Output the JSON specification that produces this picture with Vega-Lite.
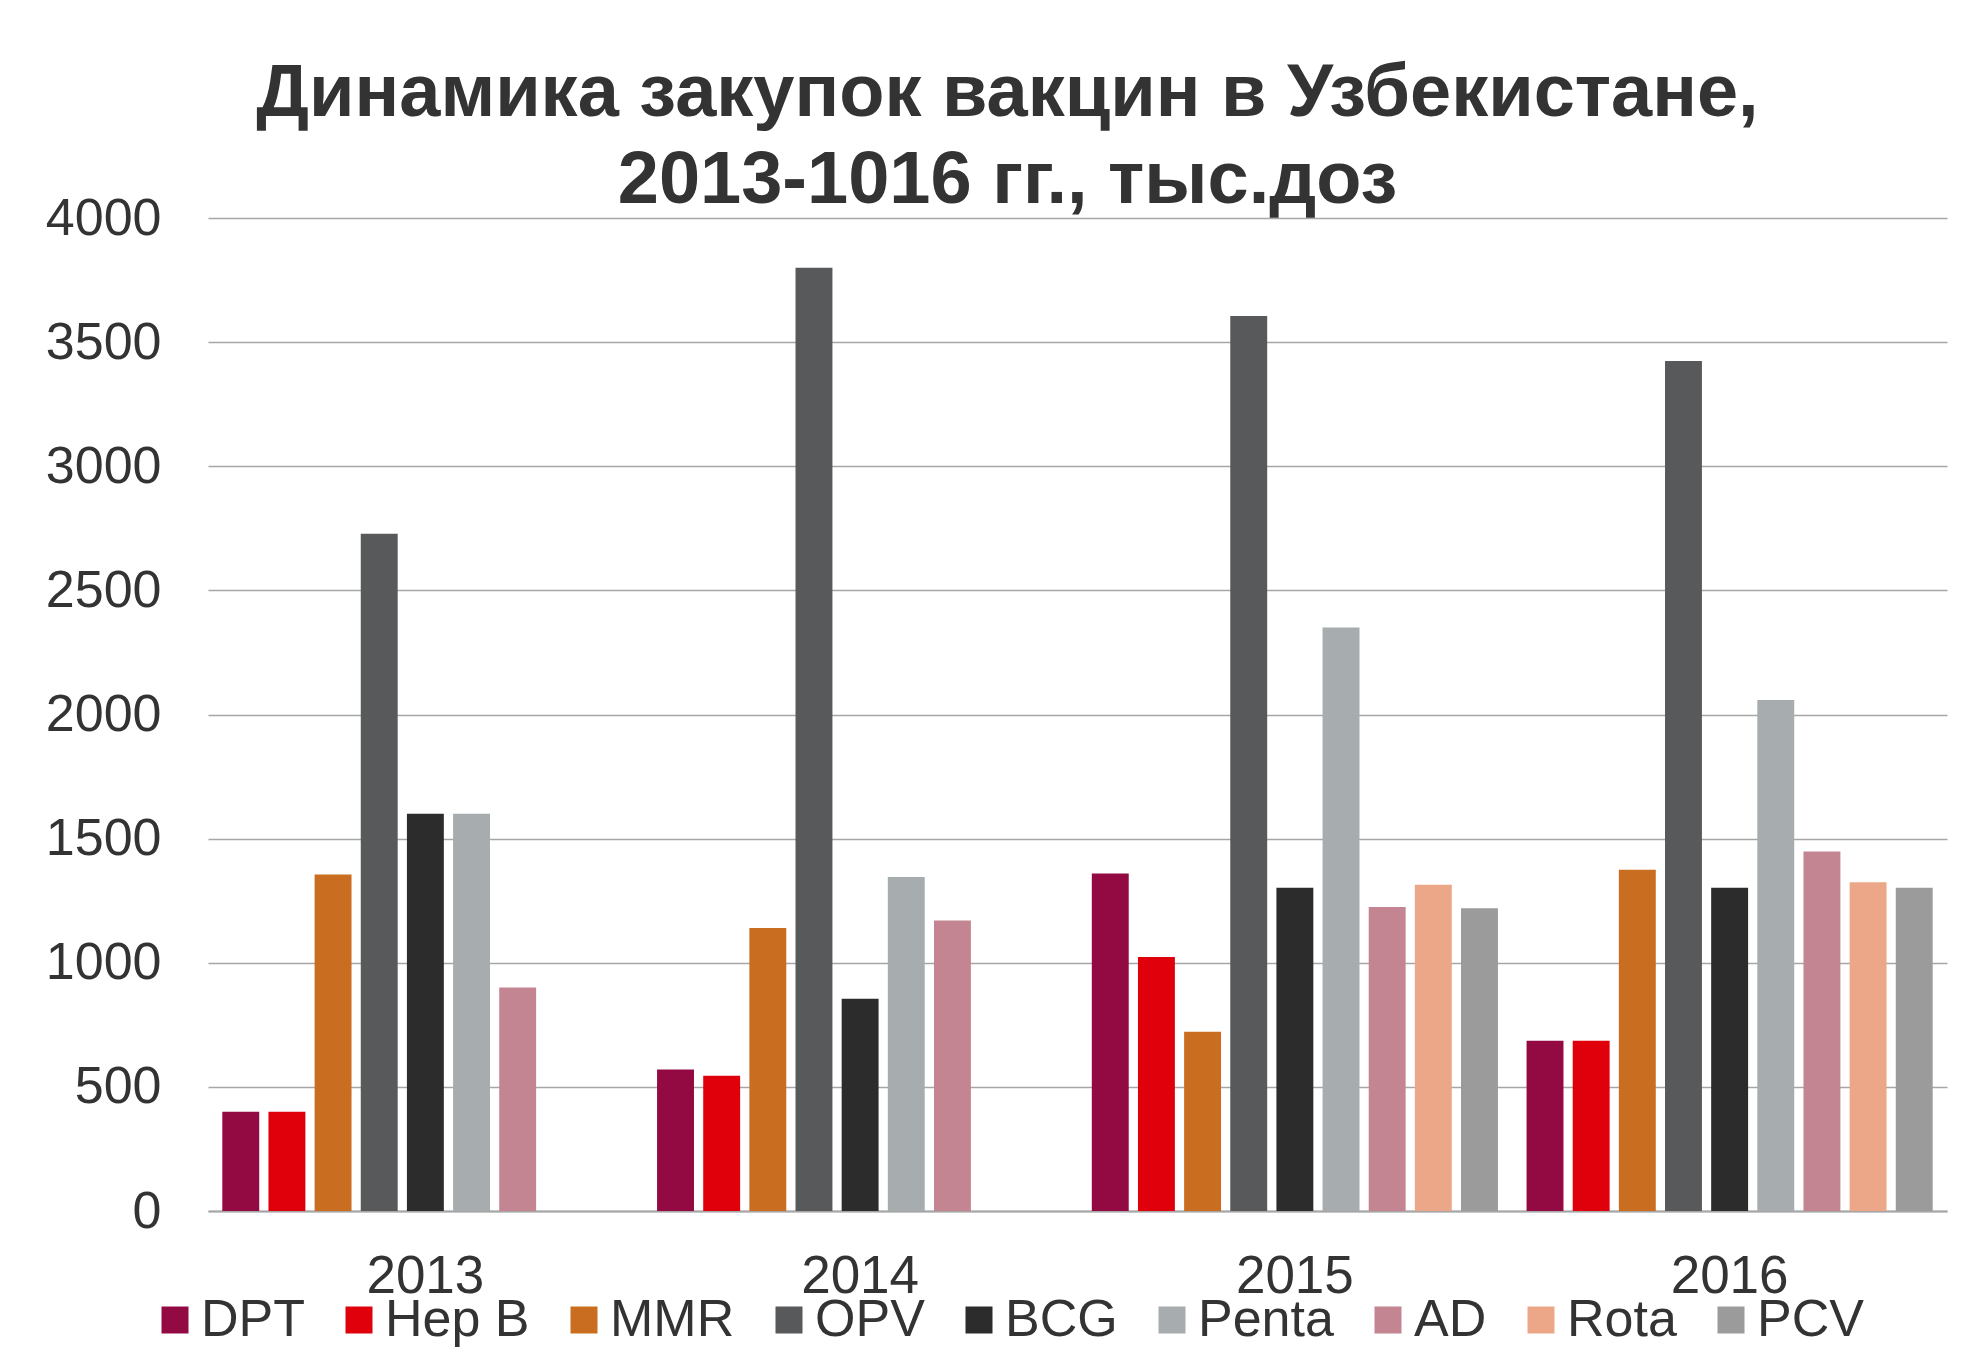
{
  "$schema": "https://vega.github.io/schema/vega-lite/v6.json",
  "width": 1739,
  "height": 993,
  "autosize": {"type": "none"},
  "padding": {"left": 208, "top": 218, "right": 29, "bottom": 136},
  "background": "white",
  "title": {
    "text": ["Динамика закупок вакцин в Узбекистане,", "2013-1016 гг., тыс.доз"],
    "anchor": "middle",
    "frame": "group",
    "dx": -70,
    "offset": -27,
    "font": "Liberation Sans",
    "fontSize": 74,
    "fontWeight": "bold",
    "lineHeight": 87,
    "color": "#333333"
  },
  "data": {
    "values": [
      {"year": "2013", "vaccine": "DPT", "doses": 400},
      {"year": "2013", "vaccine": "Hep B", "doses": 400},
      {"year": "2013", "vaccine": "MMR", "doses": 1355},
      {"year": "2013", "vaccine": "OPV", "doses": 2728},
      {"year": "2013", "vaccine": "BCG", "doses": 1600},
      {"year": "2013", "vaccine": "Penta", "doses": 1600},
      {"year": "2013", "vaccine": "AD", "doses": 900},
      {"year": "2014", "vaccine": "DPT", "doses": 570},
      {"year": "2014", "vaccine": "Hep B", "doses": 545},
      {"year": "2014", "vaccine": "MMR", "doses": 1140},
      {"year": "2014", "vaccine": "OPV", "doses": 3800},
      {"year": "2014", "vaccine": "BCG", "doses": 855},
      {"year": "2014", "vaccine": "Penta", "doses": 1345},
      {"year": "2014", "vaccine": "AD", "doses": 1170},
      {"year": "2015", "vaccine": "DPT", "doses": 1360},
      {"year": "2015", "vaccine": "Hep B", "doses": 1023},
      {"year": "2015", "vaccine": "MMR", "doses": 722},
      {"year": "2015", "vaccine": "OPV", "doses": 3605},
      {"year": "2015", "vaccine": "BCG", "doses": 1302},
      {"year": "2015", "vaccine": "Penta", "doses": 2350},
      {"year": "2015", "vaccine": "AD", "doses": 1225},
      {"year": "2015", "vaccine": "Rota", "doses": 1314},
      {"year": "2015", "vaccine": "PCV", "doses": 1220},
      {"year": "2016", "vaccine": "DPT", "doses": 686},
      {"year": "2016", "vaccine": "Hep B", "doses": 686},
      {"year": "2016", "vaccine": "MMR", "doses": 1375},
      {"year": "2016", "vaccine": "OPV", "doses": 3424},
      {"year": "2016", "vaccine": "BCG", "doses": 1302},
      {"year": "2016", "vaccine": "Penta", "doses": 2058},
      {"year": "2016", "vaccine": "AD", "doses": 1448},
      {"year": "2016", "vaccine": "Rota", "doses": 1324},
      {"year": "2016", "vaccine": "PCV", "doses": 1302}
    ]
  },
  "mark": {"type": "bar"},
  "encoding": {
    "x": {
      "field": "year",
      "type": "nominal",
      "scale": {"paddingInner": 0, "paddingOuter": 0},
      "axis": {
        "title": null,
        "labelAngle": 0,
        "labelFont": "Liberation Sans",
        "labelFontSize": 53,
        "labelColor": "#333333",
        "labelPadding": 39,
        "ticks": false,
        "tickSize": 0,
        "domainColor": "#A6A6A6",
        "domainWidth": 2,
        "grid": false
      }
    },
    "xOffset": {
      "field": "vaccine",
      "type": "nominal",
      "scale": {
        "domain": ["DPT", "Hep B", "MMR", "OPV", "BCG", "Penta", "AD", "Rota", "PCV"],
        "paddingInner": 0.2,
        "paddingOuter": 0.31
      }
    },
    "y": {
      "field": "doses",
      "type": "quantitative",
      "scale": {"domain": [0, 4000], "nice": false},
      "axis": {
        "title": null,
        "format": "d",
        "values": [0, 500, 1000, 1500, 2000, 2500, 3000, 3500, 4000],
        "labelFont": "Liberation Sans",
        "labelFontSize": 52,
        "labelColor": "#333333",
        "labelPadding": 47,
        "ticks": false,
        "tickSize": 0,
        "domain": false,
        "grid": true,
        "gridColor": "#A6A6A6",
        "gridWidth": 1.5
      }
    },
    "color": {
      "field": "vaccine",
      "type": "nominal",
      "scale": {
        "domain": ["DPT", "Hep B", "MMR", "OPV", "BCG", "Penta", "AD", "Rota", "PCV"],
        "range": ["#930A43", "#E0000B", "#C96E21", "#58595B", "#2C2C2C", "#A7ADAF", "#C28591", "#ECA688", "#9B9B9B"]
      },
      "legend": {
        "title": null,
        "orient": "none",
        "direction": "horizontal",
        "columns": 9,
        "legendX": -59,
        "legendY": 1076,
        "symbolType": "square",
        "symbolSize": 729,
        "symbolStrokeWidth": 0,
        "symbolOpacity": 1,
        "labelFont": "Liberation Sans",
        "labelFontSize": 52,
        "labelColor": "#333333",
        "labelOffset": 0,
        "columnPadding": 28,
        "labelLimit": 400
      }
    }
  },
  "config": {
    "view": {"stroke": null}
  }
}
